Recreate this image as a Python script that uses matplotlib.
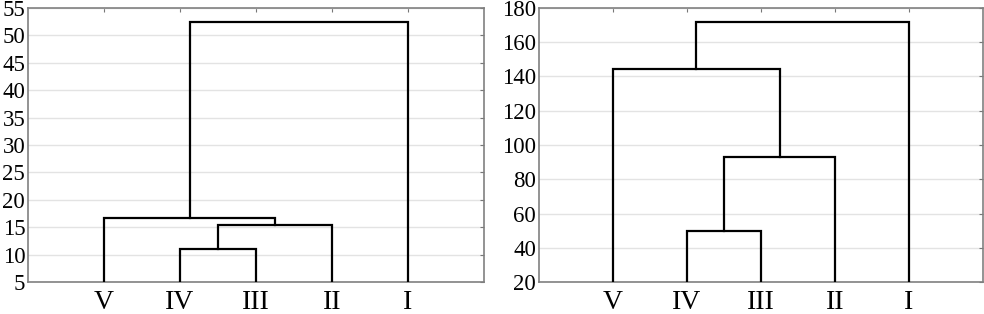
import matplotlib
matplotlib.use("Agg")
import matplotlib.pyplot as plt

plt.rcParams["font.family"] = ["Liberation Serif", "DejaVu Serif"]

LEAVES = ["V", "IV", "III", "II", "I"]

# merges: (a, b, height); leaves by name, earlier merges by index "m0", "m1", ...
LEFT_MERGES = [("IV", "III", 11.1), ("m0", "II", 15.4), ("V", "m1", 16.7), ("m2", "I", 52.5)]
RIGHT_MERGES = [("IV", "III", 50.0), ("m0", "II", 93.0), ("V", "m1", 144.5), ("m2", "I", 172.0)]

LEFT_YLIM = (5, 55)
LEFT_YTICKS = list(range(5, 56, 5))
RIGHT_YLIM = (20, 180)
RIGHT_YTICKS = list(range(20, 181, 20))


def draw_dendrogram(ax, merges, ylim, yticks):
    pos = {name: (i + 1, ylim[0]) for i, name in enumerate(LEAVES)}
    for k, (a, b, h) in enumerate(merges):
        xa, ya = pos[a]
        xb, yb = pos[b]
        ax.plot([xa, xa, xb, xb], [ya, h, h, yb], color="black", lw=1.6,
                solid_joinstyle="miter", zorder=3)
        pos[f"m{k}"] = ((xa + xb) / 2, h)

    ax.set_xlim(0, len(LEAVES) + 1)
    ax.set_ylim(*ylim)
    ax.set_yticks(yticks)
    ax.set_xticks(range(1, len(LEAVES) + 1))
    ax.set_xticklabels(LEAVES, fontsize=20)
    ax.tick_params(axis="y", labelsize=16.5, left=False, right=True, direction="in",
                   length=3, color="#777777", pad=2)
    ax.tick_params(axis="x", bottom=False, top=True, direction="in", length=3,
                   color="#777777", pad=6)
    ax.grid(axis="y", color="#e3e3e3", lw=1.0, zorder=0)
    for sp in ax.spines.values():
        sp.set_color("#808080")
        sp.set_linewidth(1.2)


fig = plt.figure(figsize=(9.84, 3.14), dpi=100)
ax1 = fig.add_axes([28 / 984, 32 / 314, 456 / 984, 274 / 314])
ax2 = fig.add_axes([539 / 984, 32 / 314, 444 / 984, 274 / 314])

draw_dendrogram(ax1, LEFT_MERGES, LEFT_YLIM, LEFT_YTICKS)
draw_dendrogram(ax2, RIGHT_MERGES, RIGHT_YLIM, RIGHT_YTICKS)

fig.savefig("out.png", dpi=100)
